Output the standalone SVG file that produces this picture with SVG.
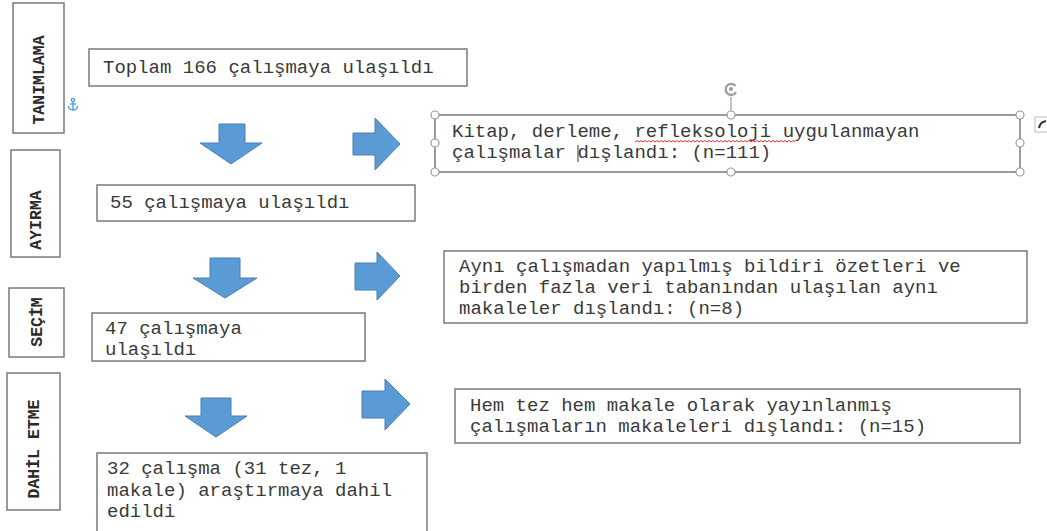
<svg xmlns="http://www.w3.org/2000/svg" width="1047" height="531" viewBox="0 0 1047 531">
<style>
.box{fill:#fff;stroke:#7a7a7a;stroke-width:1.5}
.t{font-family:"Liberation Mono","Courier New",monospace;font-size:19px;fill:#3a3a3a}
.s{font-family:"Liberation Mono","Courier New",monospace;font-size:16.5px;font-weight:bold;fill:#2a2a2a}
.arr{fill:#5b9bd5;stroke:#4a7fb5;stroke-width:1}
.h{fill:#fff;stroke:#9a9a9a;stroke-width:1.2}
</style>
<rect width="1047" height="531" fill="#fff"/>
<g id="lbl-tanimlama"><rect class="box" x="13" y="3" width="51" height="130"/><text class="s" transform="translate(44,80) rotate(-90)" text-anchor="middle">TANIMLAMA</text></g>
<g id="lbl-ayirma"><rect class="box" x="11" y="150" width="49" height="107"/><text class="s" transform="translate(41,220) rotate(-90)" text-anchor="middle">AYIRMA</text></g>
<g id="lbl-secim"><rect class="box" x="9" y="288" width="55" height="69"/><text class="s" transform="translate(42,322) rotate(-90)" text-anchor="middle">SEÇİM</text></g>
<g id="lbl-dahil"><rect class="box" x="7" y="373" width="53" height="137"/><text class="s" transform="translate(39,449) rotate(-90)" text-anchor="middle">DAHİL ETME</text></g>
<g id="anchor" fill="none" stroke="#4a9fd8" stroke-width="1.4"><circle cx="73" cy="100" r="1.6"/><line x1="73" y1="102" x2="73" y2="110"/><line x1="70" y1="104" x2="76" y2="104"/><path d="M68.5 106 Q69 110 73 110 Q77 110 77.5 106"/></g>
<g id="n1"><rect class="box" x="89" y="49" width="378" height="37"/><text class="t" x="103" y="73">Toplam 166 çalışmaya ulaşıldı</text></g>
<g id="n2"><rect class="box" x="97" y="185" width="318" height="36"/><text class="t" x="110" y="208">55 çalışmaya ulaşıldı</text></g>
<g id="n3"><rect class="box" x="92" y="313" width="273" height="48"/><text class="t" x="105" y="334">47 çalışmaya</text><text class="t" x="105" y="355">ulaşıldı</text></g>
<g id="n4"><rect class="box" x="97" y="453" width="330" height="80"/><text class="t" x="107" y="474">32 çalışma (31 tez, 1</text><text class="t" x="107" y="496">makale) araştırmaya dahil</text><text class="t" x="107" y="517">edildi</text></g>
<g id="e1"><rect class="box" x="435" y="115" width="585" height="57"/>
<text class="t" x="452" y="137">Kitap, derleme, refleksoloji uygulanmayan</text><text class="t" x="452" y="158">çalışmalar dışlandı: (n=111)</text>
<path d="M635 142 l2 -1.5 l2 1.5 l2 -1.5 l2 1.5 l2 -1.5 l2 1.5 l2 -1.5 l2 1.5 l2 -1.5 l2 1.5 l2 -1.5 l2 1.5 l2 -1.5 l2 1.5 l2 -1.5 l2 1.5 l2 -1.5 l2 1.5 l2 -1.5 l2 1.5 l2 -1.5 l2 1.5 l2 -1.5 l2 1.5 l2 -1.5 l2 1.5 l2 -1.5 l2 1.5 l2 -1.5 l2 1.5 l2 -1.5 l2 1.5 l2 -1.5 l2 1.5 l2 -1.5 l2 1.5 l2 -1.5 l2 1.5 l2 -1.5 l2 1.5 l2 -1.5 l2 1.5 l2 -1.5 l2 1.5 l2 -1.5 l2 1.5 l2 -1.5 l2 1.5 l2 -1.5 l2 1.5 l2 -1.5 l2 1.5 l2 -1.5 l2 1.5 l2 -1.5 l2 1.5 l2 -1.5 l2 1.5 l2 -1.5 l2 1.5 l2 -1.5 l2 1.5 l2 -1.5 l2 1.5 l2 -1.5 l2 1.5 l2 -1.5 l2 1.5 l2 -1.5 l2 1.5 l2 -1.5 l2 1.5 l2 -1.5 l2 1.5 l2 -1.5 l2 1.5 l2 -1.5 l2 1.5 l2 -1.5 l2 1.5" fill="none" stroke="#e03030" stroke-width="1"/>
<line x1="578" y1="145" x2="578" y2="162" stroke="#333" stroke-width="1"/>
<line x1="731" y1="97" x2="731" y2="115" stroke="#9a9a9a" stroke-width="1.2"/>
<path d="M735.5 86 A5.5 5.5 0 1 0 736 92" fill="none" stroke="#9a9a9a" stroke-width="2.2"/><circle cx="731" cy="89" r="2" fill="#9a9a9a"/>
<circle class="h" cx="435" cy="115" r="4"/><circle class="h" cx="731" cy="115" r="4"/><circle class="h" cx="1020" cy="115" r="4"/>
<circle class="h" cx="435" cy="143" r="4"/><circle class="h" cx="1020" cy="143" r="4"/>
<circle class="h" cx="435" cy="172" r="4"/><circle class="h" cx="731" cy="172" r="4"/><circle class="h" cx="1020" cy="172" r="4"/>
<rect x="1035" y="117" width="14" height="15" fill="#fff" stroke="#bbb" stroke-width="1"/><path d="M1039 128 Q1040 122 1046 121" fill="none" stroke="#333" stroke-width="2"/>
</g>
<g id="e2"><rect class="box" x="444" y="251" width="583" height="72"/><text class="t" x="459" y="272">Aynı çalışmadan yapılmış bildiri özetleri ve</text><text class="t" x="459" y="293">birden fazla veri tabanından ulaşılan aynı</text><text class="t" x="459" y="314">makaleler dışlandı: (n=8)</text></g>
<g id="e3"><rect class="box" x="455" y="389" width="565" height="54"/><text class="t" x="470" y="411">Hem tez hem makale olarak yayınlanmış</text><text class="t" x="470" y="432">çalışmaların makaleleri dışlandı: (n=15)</text></g>
<g id="connectors">
<path class="arr" d="M219 124 H245 V143 H262 L231 164 L200 143 H219 Z"/>
<path class="arr" d="M210 258 H240 V278 H257 L225 298 L193 278 H210 Z"/>
<path class="arr" d="M201 398 H231 V416 H247 L216 437 L185 416 H201 Z"/>
<path class="arr" d="M353 133 H375 V118 L400 144 L375 170 V155 H353 Z"/>
<path class="arr" d="M355 263 H377 V252 L400 276 L377 300 V290 H355 Z"/>
<path class="arr" d="M362 391 H385 V379 L410 404 L385 430 V418 H362 Z"/>
</g>
</svg>
